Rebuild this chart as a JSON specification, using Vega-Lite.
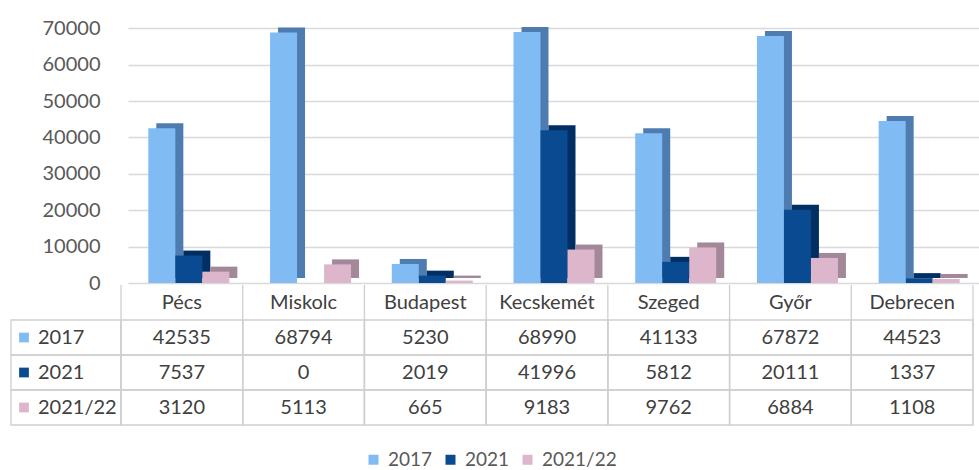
{
  "$schema": "https://vega.github.io/schema/vega-lite/v6.json",
  "padding": {"left": 10, "top": 10, "right": 5, "bottom": 45},
  "background": "white",
  "bounds": "flush",
  "config": {
    "view": {"stroke": null},
    "font": "Lato",
    "legend": {
      "orient": "none", "legendX": 243, "legendY": 440, "direction": "horizontal",
      "title": null, "symbolType": "square", "symbolSize": 100, "symbolStrokeWidth": 0,
      "labelFont": "Lato", "labelFontSize": 19, "labelColor": "#595959",
      "columnPadding": 8, "labelOffset": 5
    }
  },
  "datasets": {
    "vals": [
      {"city": "Pécs", "series": "2017", "value": 42535},
      {"city": "Miskolc", "series": "2017", "value": 68794},
      {"city": "Budapest", "series": "2017", "value": 5230},
      {"city": "Kecskemét", "series": "2017", "value": 68990},
      {"city": "Szeged", "series": "2017", "value": 41133},
      {"city": "Győr", "series": "2017", "value": 67872},
      {"city": "Debrecen", "series": "2017", "value": 44523},
      {"city": "Pécs", "series": "2021", "value": 7537},
      {"city": "Miskolc", "series": "2021", "value": 0},
      {"city": "Budapest", "series": "2021", "value": 2019},
      {"city": "Kecskemét", "series": "2021", "value": 41996},
      {"city": "Szeged", "series": "2021", "value": 5812},
      {"city": "Győr", "series": "2021", "value": 20111},
      {"city": "Debrecen", "series": "2021", "value": 1337},
      {"city": "Pécs", "series": "2021/22", "value": 3120},
      {"city": "Miskolc", "series": "2021/22", "value": 5113},
      {"city": "Budapest", "series": "2021/22", "value": 665},
      {"city": "Kecskemét", "series": "2021/22", "value": 9183},
      {"city": "Szeged", "series": "2021/22", "value": 9762},
      {"city": "Győr", "series": "2021/22", "value": 6884},
      {"city": "Debrecen", "series": "2021/22", "value": 1108}
    ],
    "cities": [
      {"city": "Pécs"}, {"city": "Miskolc"}, {"city": "Budapest"}, {"city": "Kecskemét"},
      {"city": "Szeged"}, {"city": "Győr"}, {"city": "Debrecen"}
    ]
  },
  "spacing": 2,
  "vconcat": [
    {
      "width": 852,
      "height": 273,
      "data": {"name": "vals"},
      "encoding": {
        "x": {
          "field": "city", "type": "nominal",
          "scale": {"domain": ["Pécs", "Miskolc", "Budapest", "Kecskemét", "Szeged", "Győr", "Debrecen"], "range": [7, 859], "paddingInner": 0.3345, "paddingOuter": 0.167},
          "axis": null
        },
        "y": {
          "field": "value", "type": "quantitative",
          "scale": {"domain": [0, 75000], "nice": false},
          "axis": {
            "values": [0, 10000, 20000, 30000, 40000, 50000, 60000, 70000],
            "title": null, "domain": false, "ticks": false,
            "labelFont": "Lato", "labelFontSize": 20, "labelColor": "#595959", "labelPadding": 21,
            "gridColor": "#D9D9D9", "gridWidth": 1.5, "format": "d"
          }
        }
      },
      "layer": [
        {
          "mark": {"type": "bar", "yOffset": -5},
          "encoding": {
            "xOffset": {"field": "series", "type": "nominal", "scale": {"domain": ["2017", "2021", "2021/22"], "range": [8, 89], "paddingInner": 0, "paddingOuter": 0}},
            "fill": {
              "condition": [
                {"test": "datum.series == '2017'", "value": "#4E7CB0"},
                {"test": "datum.series == '2021'", "value": "#012E63"}
              ],
              "value": "#A3889A"
            }
          }
        },
        {
          "mark": {"type": "bar"},
          "encoding": {
            "xOffset": {"field": "series", "type": "nominal", "scale": {"domain": ["2017", "2021", "2021/22"], "paddingInner": 0, "paddingOuter": 0}},
            "color": {
              "field": "series", "type": "nominal",
              "scale": {"domain": ["2017", "2021", "2021/22"], "range": ["#80BBF3", "#0A4A90", "#DDB6CB"]}
            }
          }
        }
      ],
      "resolve": {"scale": {"xOffset": "independent"}}
    },
    {
      "width": 852,
      "height": 140,
      "resolve": {"scale": {"x": "independent"}},
      "layer": [
        {
          "data": {"name": "vals"},
          "mark": {"type": "rect", "fill": "transparent", "stroke": "#CFCFCF", "strokeWidth": 1.3},
          "encoding": {
            "x": {"field": "city", "type": "nominal", "scale": {"domain": ["Pécs", "Miskolc", "Budapest", "Kecskemét", "Szeged", "Győr", "Debrecen"], "paddingInner": 0, "paddingOuter": 0}, "axis": null},
            "y": {"field": "series", "type": "nominal", "scale": {"domain": ["hdr", "2017", "2021", "2021/22"], "paddingInner": 0, "paddingOuter": 0}, "axis": null}
          }
        },
        {
          "data": {"name": "cities"},
          "mark": {"type": "rule", "stroke": "#CFCFCF", "strokeWidth": 1.3},
          "encoding": {
            "x": {"field": "city", "type": "nominal", "bandPosition": 0, "scale": {"domain": ["Pécs", "Miskolc", "Budapest", "Kecskemét", "Szeged", "Győr", "Debrecen"], "paddingInner": 0, "paddingOuter": 0}, "axis": null}
          }
        },
        {
          "data": {"name": "cities"},
          "transform": [{"filter": "datum.city == 'Debrecen'"}],
          "mark": {"type": "rule", "stroke": "#CFCFCF", "strokeWidth": 1.3},
          "encoding": {
            "x": {"field": "city", "type": "nominal", "bandPosition": 1, "scale": {"domain": ["Pécs", "Miskolc", "Budapest", "Kecskemét", "Szeged", "Győr", "Debrecen"], "paddingInner": 0, "paddingOuter": 0}, "axis": null}
          }
        },
        {
          "data": {"name": "cities"},
          "mark": {"type": "text", "font": "Lato", "fontSize": 20, "color": "#404040"},
          "encoding": {
            "x": {"field": "city", "type": "nominal", "scale": {"domain": ["Pécs", "Miskolc", "Budapest", "Kecskemét", "Szeged", "Győr", "Debrecen"], "paddingInner": 0, "paddingOuter": 0}, "axis": null},
            "y": {"datum": "hdr", "type": "nominal", "scale": {"domain": ["hdr", "2017", "2021", "2021/22"], "paddingInner": 0, "paddingOuter": 0}, "axis": null},
            "text": {"field": "city", "type": "nominal"}
          }
        },
        {
          "data": {"name": "vals"},
          "mark": {"type": "text", "font": "Lato", "fontSize": 20, "color": "#404040"},
          "encoding": {
            "x": {"field": "city", "type": "nominal", "scale": {"domain": ["Pécs", "Miskolc", "Budapest", "Kecskemét", "Szeged", "Győr", "Debrecen"], "paddingInner": 0, "paddingOuter": 0}, "axis": null},
            "y": {"field": "series", "type": "nominal", "scale": {"domain": ["hdr", "2017", "2021", "2021/22"], "paddingInner": 0, "paddingOuter": 0}, "axis": null},
            "text": {"field": "value", "type": "quantitative", "format": "d"}
          }
        },
        {
          "data": {"name": "vals"},
          "transform": [{"filter": "datum.city == 'Pécs'"}],
          "encoding": {
            "x": {"datum": "lbl", "type": "nominal", "scale": {"domain": ["lbl"], "range": [-110, 0], "paddingInner": 0, "paddingOuter": 0}, "axis": null},
            "y": {"field": "series", "type": "nominal", "scale": {"domain": ["hdr", "2017", "2021", "2021/22"], "paddingInner": 0, "paddingOuter": 0}, "axis": null}
          },
          "layer": [
            {"mark": {"type": "rect", "fill": "transparent", "stroke": "#CFCFCF", "strokeWidth": 1.3}},
            {
              "mark": {"type": "point", "shape": "square", "filled": true, "size": 95, "xOffset": -42, "opacity": 1},
              "encoding": {"color": {"field": "series", "type": "nominal", "scale": {"domain": ["2017", "2021", "2021/22"], "range": ["#80BBF3", "#0A4A90", "#DDB6CB"]}}}
            },
            {
              "mark": {"type": "text", "font": "Lato", "fontSize": 20, "color": "#404040", "align": "left", "dx": -28},
              "encoding": {"text": {"field": "series", "type": "nominal"}}
            }
          ]
        }
      ]
    }
  ]
}
